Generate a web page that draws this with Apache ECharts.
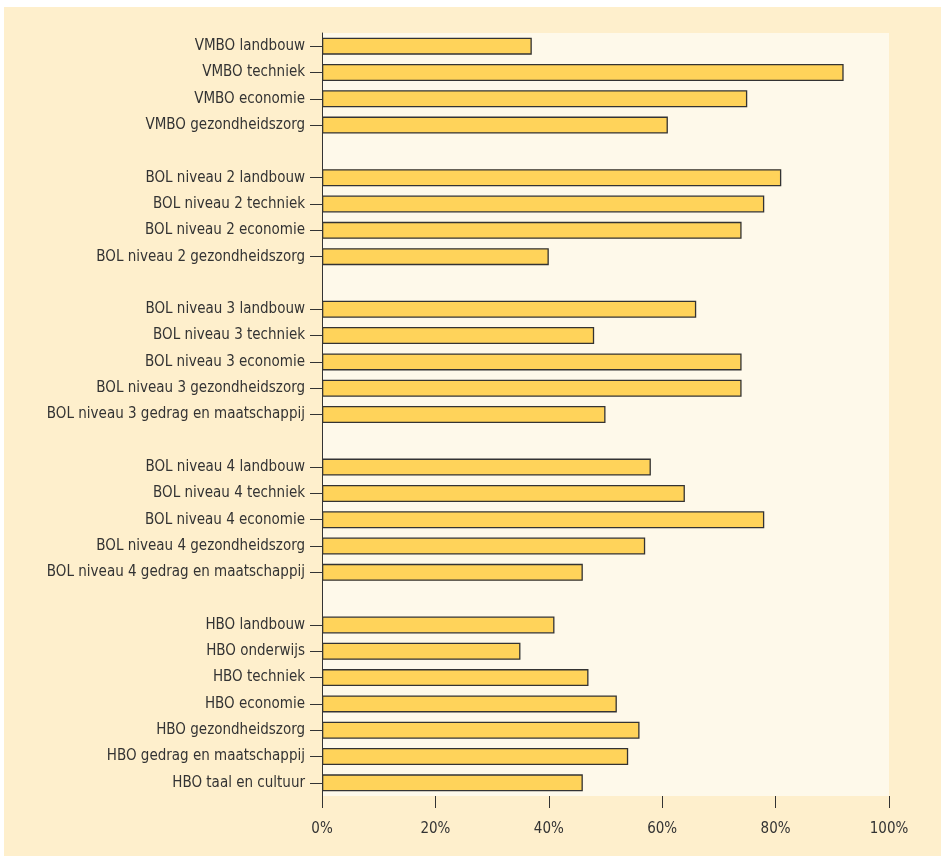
<!DOCTYPE html>
<html><head><meta charset="utf-8">
<script src="https://cdn.jsdelivr.net/npm/echarts@6/dist/echarts.min.js"></script>
<style>html,body{margin:0;padding:0;background:#fff}#c{width:941px;height:856px}</style>
</head><body><div id="c"></div>
<script>
const categories = [
 'VMBO landbouw','VMBO techniek','VMBO economie','VMBO gezondheidszorg','',
 'BOL niveau 2 landbouw','BOL niveau 2 techniek','BOL niveau 2 economie','BOL niveau 2 gezondheidszorg','',
 'BOL niveau 3 landbouw','BOL niveau 3 techniek','BOL niveau 3 economie','BOL niveau 3 gezondheidszorg','BOL niveau 3 gedrag en maatschappij','',
 'BOL niveau 4 landbouw','BOL niveau 4 techniek','BOL niveau 4 economie','BOL niveau 4 gezondheidszorg','BOL niveau 4 gedrag en maatschappij','',
 'HBO landbouw','HBO onderwijs','HBO techniek','HBO economie','HBO gezondheidszorg','HBO gedrag en maatschappij','HBO taal en cultuur'
];
const values = [
 37, 92, 75, 61, null,
 81, 78, 74, 40, null,
 66, 48, 74, 74, 50, null,
 58, 64, 78, 57, 46, null,
 41, 35, 47, 52, 56, 54, 46
];
const xTicks = [0, 20, 40, 60, 80, 100];

const FONT = '"DejaVu Sans Condensed", "Liberation Sans Narrow", sans-serif';
const chart = echarts.init(document.getElementById('c'));
chart.setOption({
  backgroundColor: '#fff',
  animation: false,
  graphic: [{type:'rect', shape:{x:4,y:7,width:937,height:849}, style:{fill:'#feefcc'}, z:-10}],
  grid: {left: 322, top: 33, width: 567, height: 763, show: true, backgroundColor: '#fef9ea', borderWidth: 0},
  xAxis: {
    type: 'value', min: 0, max: 100, interval: 20,
    axisLine: {show: false},
    axisTick: {show: true, length: 12, lineStyle: {color: '#333', width: 1}},
    splitLine: {show: false},
    axisLabel: {formatter: v => xTicks.includes(v) ? v + '%' : '', color: '#333', fontFamily: FONT, fontSize: 15, margin: 26}
  },
  yAxis: {
    type: 'category', data: categories, inverse: true,
    axisLine: {show: true, lineStyle: {color: '#333', width: 1}},
    axisTick: {show: true, alignWithLabel: true, length: 12, lineStyle: {color: '#333'},
      interval: (i, v) => v !== ''},
    axisLabel: {interval: 0, color: '#333', fontFamily: FONT, fontSize: 15, margin: 17}
  },
  series: [{
    type: 'bar', data: values, barWidth: 17,
    itemStyle: {color: '#ffd35a', borderColor: '#333', borderWidth: 1.3}
  }]
});
</script></body></html>
